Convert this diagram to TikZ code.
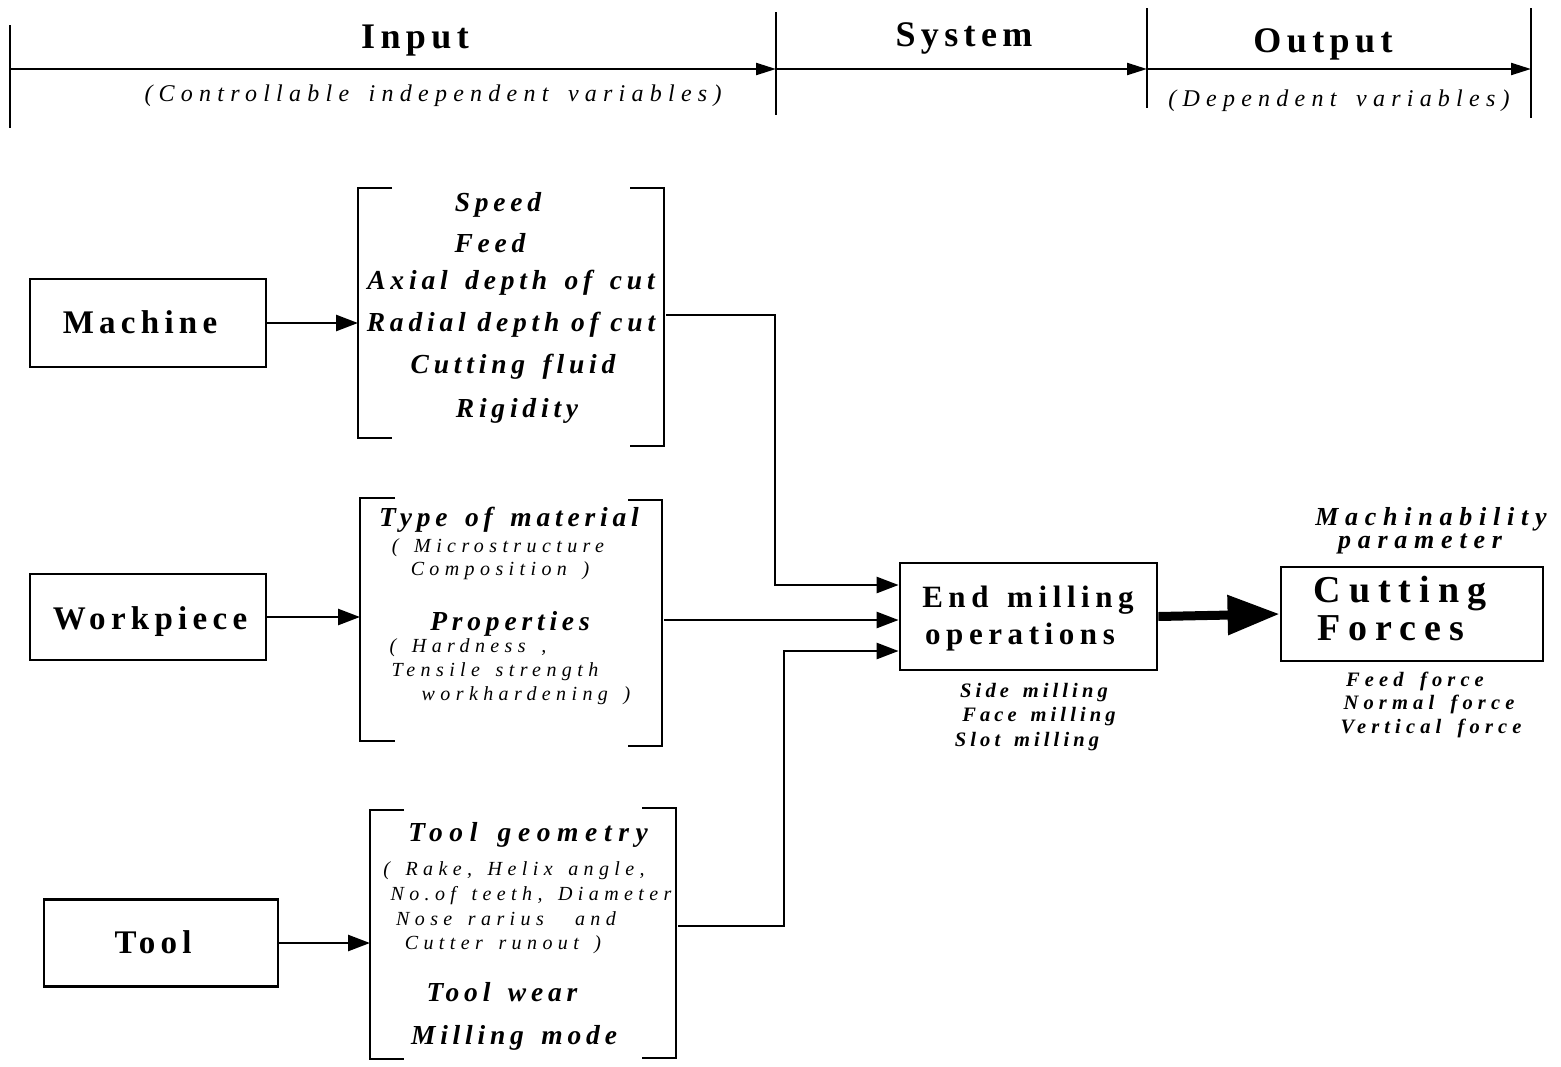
\documentclass[tikz,border=0pt]{standalone}
\usepackage{fontspec}
\setmainfont{Liberation Serif}
\usetikzlibrary{arrows.meta}

% widen the interword space of the current font by a factor
\newcommand\wordgap[1]{\spaceskip=#1\fontdimen2\font\relax}

\tikzset{
  hdr/.style={inner sep=0pt, font=\fontsize{36}{40}\selectfont\bfseries\addfontfeature{LetterSpace=15}},
  note/.style={inner sep=0pt, font=\fontsize{24}{28}\selectfont\itshape\addfontfeature{LetterSpace=26}\wordgap{1.6}},
  blk/.style={draw, line width=2.8pt, inner sep=0pt},
  blktxt/.style={inner sep=0pt, font=\fontsize{33}{37}\selectfont\bfseries\addfontfeature{LetterSpace=16}},
  systxt/.style={inner sep=0pt, font=\fontsize{31}{35}\selectfont\bfseries\addfontfeature{LetterSpace=18}\wordgap{1.4}},
  outtxt/.style={inner sep=0pt, font=\fontsize{38}{42}\selectfont\bfseries\addfontfeature{LetterSpace=21}},
  item/.style={inner sep=0pt, font=\fontsize{27.5}{31}\selectfont\bfseries\itshape\addfontfeature{LetterSpace=17.5}\wordgap{1.5}},
  itemtight/.style={inner sep=0pt, font=\fontsize{27.5}{31}\selectfont\bfseries\itshape\addfontfeature{LetterSpace=17.5}\wordgap{1.0}},
  itemwide/.style={inner sep=0pt, font=\fontsize{27.5}{31}\selectfont\bfseries\itshape\addfontfeature{LetterSpace=24}\wordgap{1.5}},
  param/.style={inner sep=0pt, font=\fontsize{26}{30}\selectfont\bfseries\itshape\addfontfeature{LetterSpace=26}},
  sub/.style={inner sep=0pt, font=\fontsize{20}{24}\selectfont\itshape\addfontfeature{LetterSpace=27}\wordgap{1.5}},
  subb/.style={inner sep=0pt, font=\fontsize{20.5}{24}\selectfont\bfseries\itshape\addfontfeature{LetterSpace=25}\wordgap{1.6}},
  mode/.style={inner sep=0pt, font=\fontsize{20.5}{24}\selectfont\bfseries\itshape\addfontfeature{LetterSpace=20}\wordgap{1.5}},
  wire/.style={line width=2pt},
  bracket/.style={line width=2.2pt},
  arr/.style={line width=2.6pt, -{Triangle[length=22pt,width=16pt]}},
  tarr/.style={line width=2.2pt, -{Triangle[length=20pt,width=12pt]}},
  bigarr/.style={line width=9pt, -{Triangle[length=52pt,width=38pt]}}
}

\begin{document}
\begin{tikzpicture}[x=1pt,y=-1pt]
\useasboundingbox (0,0) rectangle (1561,1066);

% ---------- header: Input / System / Output scale ----------
\coordinate (t0) at (10,69);
\coordinate (t1) at (776,69);
\coordinate (t2) at (1147,69);
\coordinate (t3) at (1531,69);
\draw[wire] (10,25) -- (10,128);
\draw[wire] (776,12) -- (776,115);
\draw[wire] (1147,8) -- (1147,108);
\draw[wire] (1531,8) -- (1531,118);
\draw[tarr] (t0) -- (t1);
\draw[tarr] (t1) -- (t2);
\draw[tarr] (t2) -- (t3);
\node[hdr, anchor=base] (hin) at (415,48) {Input};
\node[hdr, anchor=base] (hsys) at (964,46) {System};
\node[hdr, anchor=base] (hout) at (1323,52) {Output};
\node[note, anchor=base] (nin) at (433,101) {(Controllable independent variables)};
\node[note, anchor=base] (nout) at (1339,106) {(Dependent variables)};

% ---------- source blocks ----------
\node[blk, minimum width=236, minimum height=88] (machine) at (148,323) {};
\node[blktxt, anchor=base] at (140,333) {Machine};
\node[blk, minimum width=236, minimum height=86] (work) at (148,617) {};
\node[blktxt, anchor=base] at (150,629) {Workpiece};
\node[blk, minimum width=234, minimum height=87] (tool) at (161,943) {};
\node[blktxt, anchor=base] at (153,953) {Tool};

% ---------- machine parameters ----------
\draw[bracket] (392,188) -- (358,188) -- (358,438) -- (392,438);
\draw[bracket] (630,188) -- (664,188) -- (664,446) -- (630,446);
\coordinate (mpin) at (358,323);
\coordinate (mpout) at (666,315);
\node[item, anchor=base] at (498,211) {Speed};
\node[item, anchor=base] at (490,252) {Feed};
\node[item, anchor=base] at (511,289) {Axial depth of cut};
\node[itemtight, anchor=base] at (511,331) {Radial depth of cut};
\node[item, anchor=base] at (513,373) {Cutting fluid};
\node[item, anchor=base] at (517,417) {Rigidity};

% ---------- workpiece parameters ----------
\draw[bracket] (395,498) -- (360,498) -- (360,741) -- (395,741);
\draw[bracket] (628,500) -- (662,500) -- (662,746) -- (628,746);
\coordinate (wpin) at (360,617);
\coordinate (wpout) at (664,620);
\node[item, anchor=base] at (509,526) {Type of material};
\node[sub, anchor=base] at (498,552) {( Microstructure};
\node[sub, anchor=base] at (500,575) {Composition )};
\node[item, anchor=base] at (510,630) {Properties};
\node[sub, anchor=base] at (468,652) {( Hardness ,};
\node[sub, anchor=base] at (495,676) {Tensile strength};
\node[sub, anchor=base] at (526,700) {workhardening )};

% ---------- tool parameters ----------
\draw[bracket] (404,810) -- (370,810) -- (370,1059) -- (404,1059);
\draw[bracket] (642,808) -- (676,808) -- (676,1058) -- (642,1058);
\coordinate (tpin) at (370,943);
\coordinate (tpout) at (678,926);
\node[itemwide, anchor=base] at (528,841) {Tool geometry};
\node[sub, anchor=base] at (514,875) {( Rake, Helix angle,};
\node[sub, anchor=base] at (531,900) {No.of teeth, Diameter};
\node[sub, anchor=base] at (506,925) {Nose rarius\ \ and};
\node[sub, anchor=base] at (503,949) {Cutter runout )};
\node[item, anchor=base] at (502,1001) {Tool wear};
\node[item, anchor=base] at (514,1044) {Milling mode};

% ---------- system block ----------
\node[blk, minimum width=257, minimum height=107] (endm) at (1028.5,616.5) {};
\node[systxt, anchor=base] at (1028,607) {End milling};
\node[systxt, anchor=base] at (1020,644) {operations};
\node[mode, anchor=base] at (1034,697) {Side milling};
\node[mode, anchor=base] at (1039,721) {Face milling};
\node[mode, anchor=base] at (1027,746) {Slot milling};

% ---------- output block ----------
\node[blk, minimum width=262, minimum height=94] (cut) at (1412,614) {};
\node[outtxt, anchor=base] at (1400,602) {Cutting};
\node[outtxt, anchor=base] at (1391,640) {Forces};
\node[param, anchor=base] at (1431,525) {Machinability};
\node[param, anchor=base] at (1420,548) {parameter};
\node[subb, anchor=base] at (1415,686) {Feed force};
\node[subb, anchor=base] at (1429,709) {Normal force};
\node[subb, anchor=base] at (1431,733) {Vertical force};

% ---------- connectors ----------
\draw[arr] (machine.east) -- (mpin);
\draw[arr] (work.east) -- (wpin);
\draw[arr] (tool.east) -- (tpin);
\draw[arr] (mpout) -- (775,315) |- ([yshift=31.5pt]endm.west);
\draw[arr] (wpout) -- (wpout -| endm.west);
\draw[arr] (tpout) -- (784,926) |- ([yshift=-34.5pt]endm.west);
\draw[bigarr] (endm.east) -- (cut.west);
\end{tikzpicture}
\end{document}
